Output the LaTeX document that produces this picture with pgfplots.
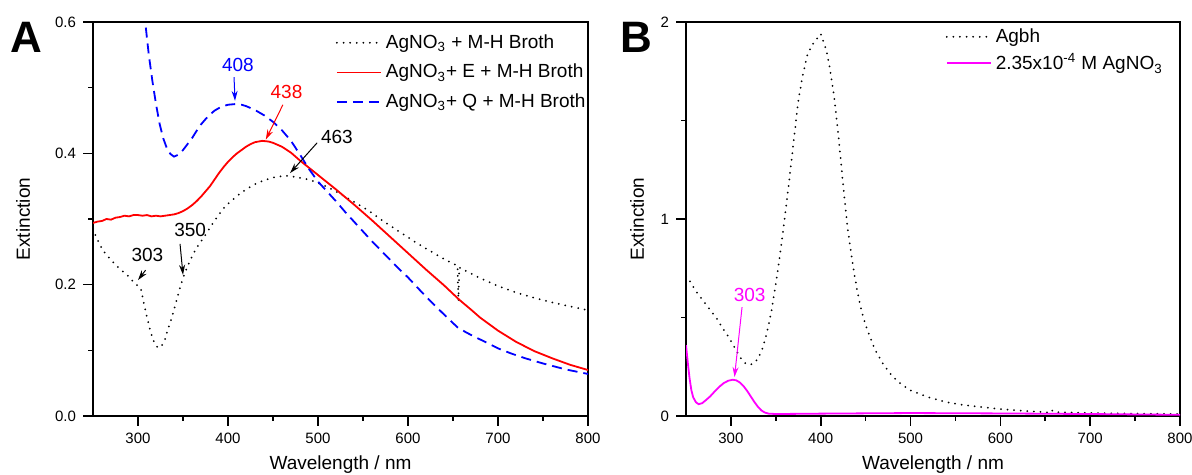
\documentclass[border=0pt]{standalone}
\usepackage{fontspec}
\setmainfont{Liberation Sans}
\usepackage{pgfplots}
\pgfplotsset{compat=1.18}
\usetikzlibrary{arrows.meta}
\definecolor{magentaline}{HTML}{FF00FF}
\definecolor{blueline}{HTML}{0000FF}
\definecolor{redline}{HTML}{FF0000}

\pgfplotstableread{
x y
250 0.285
255 0.268
260 0.255
265 0.245
270 0.238
275 0.230
280 0.224
285 0.218
290 0.212
295 0.204
300 0.198
303 0.195
306 0.175
310 0.150
314 0.128
318 0.112
322 0.104
326 0.106
330 0.117
334 0.135
338 0.152
342 0.172
346 0.192
350 0.210
355 0.228
360 0.243
365 0.256
370 0.266
375 0.276
380 0.287
385 0.297
390 0.307
395 0.316
400 0.323
410 0.335
420 0.345
430 0.353
440 0.359
450 0.363
463 0.366
475 0.364
490 0.360
500 0.355
510 0.349
520 0.342
530 0.334
540 0.326
550 0.318
560 0.309
570 0.299
580 0.290
590 0.281
600 0.272
610 0.263
620 0.255
630 0.247
640 0.239
650 0.232
655 0.229
656 0.175
657 0.226
660 0.224
670 0.217
680 0.210
690 0.204
700 0.198
720 0.188
740 0.180
760 0.173
780 0.167
800 0.161
}\broth

\pgfplotstableread{
x y
250 0.294
255 0.296
260 0.297
265 0.300
270 0.299
275 0.302
280 0.303
285 0.305
290 0.304
295 0.306
300 0.306
305 0.305
310 0.306
315 0.304
320 0.305
325 0.304
330 0.305
335 0.306
340 0.307
345 0.309
350 0.312
355 0.316
360 0.321
365 0.327
370 0.334
375 0.342
380 0.350
385 0.360
390 0.370
395 0.379
400 0.387
405 0.394
410 0.400
415 0.405
420 0.410
425 0.414
430 0.417
438 0.419
445 0.418
450 0.416
460 0.410
470 0.401
480 0.389
490 0.378
500 0.367
520 0.345
540 0.322
560 0.298
580 0.273
600 0.248
620 0.223
640 0.199
657 0.177
670 0.162
680 0.150
700 0.130
720 0.113
740 0.099
760 0.088
780 0.078
800 0.070
}\brothE

\pgfplotstableread{
x y
305 0.640
308 0.600
312 0.550
316 0.510
320 0.475
324 0.445
328 0.423
332 0.408
336 0.399
340 0.395
345 0.398
350 0.405
355 0.414
360 0.423
365 0.434
370 0.444
375 0.452
380 0.459
385 0.465
390 0.469
395 0.472
400 0.474
408 0.475
415 0.474
420 0.472
430 0.466
440 0.458
450 0.448
460 0.435
470 0.419
480 0.398
490 0.376
500 0.357
510 0.342
520 0.327
530 0.311
540 0.296
550 0.281
560 0.266
575 0.245
590 0.224
600 0.211
615 0.189
630 0.168
645 0.148
655 0.135
665 0.127
675 0.120
690 0.110
700 0.103
715 0.095
730 0.088
750 0.080
775 0.071
800 0.064
}\brothQ

\pgfplotstableread{
x y
250 0.71
255 0.68
260 0.64
265 0.61
270 0.58
275 0.55
280 0.52
285 0.49
290 0.45
295 0.42
300 0.38
305 0.34
310 0.30
315 0.27
320 0.26
325 0.265
330 0.29
335 0.34
340 0.42
345 0.53
350 0.67
355 0.83
360 1.01
365 1.20
370 1.40
375 1.60
380 1.73
385 1.83
390 1.88
395 1.91
400 1.94
403 1.90
406 1.86
410 1.77
415 1.62
420 1.41
425 1.17
430 0.95
435 0.79
440 0.65
445 0.54
450 0.46
460 0.34
470 0.26
480 0.20
490 0.16
500 0.13
520 0.095
540 0.07
560 0.055
580 0.045
600 0.035
620 0.028
640 0.022
655 0.018
657 0.03
660 0.02
700 0.015
750 0.012
800 0.01
}\agbh

\pgfplotstableread{
x y
250 0.36
252 0.27
254 0.19
256 0.13
258 0.095
261 0.07
264 0.06
268 0.065
272 0.08
277 0.10
282 0.125
287 0.148
292 0.167
297 0.179
302 0.184
306 0.181
310 0.170
314 0.152
318 0.128
322 0.100
326 0.072
330 0.047
334 0.028
338 0.017
342 0.012
350 0.010
400 0.012
500 0.015
600 0.013
700 0.010
800 0.006
}\agno

\pgfplotsset{
  panel/.style={
    scale only axis, width=247.5pt, height=197pt,
    clip mode=individual,
    xmin=250, xmax=800, xtick={300,400,...,800}, minor x tick num=1,
    xtick pos=lower, ytick pos=left, tick align=outside,
    major tick length=5pt, minor tick length=2.5pt,
    axis line style={line width=0.8pt}, every tick/.style={line width=0.8pt, black},
    tick label style={font=\fontsize{7.5}{8}\selectfont},
    /pgf/number format/assume math mode=true,
    label style={font=\fontsize{9.5}{10}\selectfont},
    xlabel={Wavelength / nm},
    xlabel style={at={(axis description cs:0.5,-0.124)}, anchor=center},
    ylabel={Extinction},
    legend style={draw=none, fill=none, anchor=north west,
      font=\fontsize{9.5}{10}\selectfont, row sep=2.5pt, inner xsep=0pt, inner ysep=5pt},
    legend cell align=left,
    legend image code/.code={\draw[##1] (0pt,0pt) -- (22pt,0pt);},
  },
  dots/.style={black, line width=1pt, line cap=round, dash pattern=on 0pt off 3.3pt},
}

\begin{document}
\begin{tikzpicture}
\useasboundingbox (0,0) rectangle (596pt,237.5pt);

\begin{axis}[panel, at={(46.5pt,29.5pt)}, anchor=south west,
  ymin=0, ymax=0.6, ytick={0,0.2,0.4,0.6}, minor y tick num=1,
  yticklabel style={/pgf/number format/.cd, fixed, fixed zerofill, precision=1},
  ylabel style={at={(axis description cs:-0.141,0.5)}, anchor=center},
  legend style={at={(axis description cs:0.49,1)}, inner ysep=4pt},
]
\addplot[dots] table {\broth};
\addlegendentry{AgNO\textsubscript{3} + M-H Broth}
\addplot[color=redline, line width=0.9pt, solid] table {\brothE};
\addlegendentry{AgNO\textsubscript{3}+ E + M-H Broth}
\addplot[color=blueline, line width=0.9pt, dash pattern=on 5pt off 3pt] table {\brothQ};
\addlegendentry{AgNO\textsubscript{3}+ Q + M-H Broth}

\node[font=\fontsize{22}{22}\selectfont\bfseries] at (axis description cs:-0.135,0.961) {A};

\node[blueline, font=\fontsize{9.5}{10}\selectfont] at (axis cs:411,0.534) {408};
\draw[blueline, line width=0.5pt, -{Stealth[length=5pt,width=3pt]}] (axis cs:406.7,0.516) -- (axis cs:407.8,0.480);
\node[redline, font=\fontsize{9.5}{10}\selectfont] at (axis cs:465,0.493) {438};
\draw[redline, line width=0.5pt, -{Stealth[length=5pt,width=3pt]}] (axis cs:461,0.474) -- (axis cs:442,0.421);
\node[font=\fontsize{9.5}{10}\selectfont] at (axis cs:521,0.425) {463};
\draw[line width=0.5pt, -{Stealth[length=5pt,width=3pt]}] (axis cs:499,0.416) -- (axis cs:469,0.370);
\node[font=\fontsize{9.5}{10}\selectfont] at (axis cs:310.5,0.245) {303};
\draw[line width=0.5pt, -{Stealth[length=5pt,width=3pt]}] (axis cs:308.4,0.222) -- (axis cs:300,0.207);
\node[font=\fontsize{9.5}{10}\selectfont] at (axis cs:358,0.283) {350};
\draw[line width=0.5pt, -{Stealth[length=5pt,width=3pt]}] (axis cs:346.7,0.262) -- (axis cs:350,0.215);
\end{axis}

\begin{axis}[panel, at={(343pt,29.5pt)}, anchor=south west, width=247pt,
  ymin=0, ymax=2, ytick={0,1,2}, minor y tick num=1,
  ylabel style={at={(axis description cs:-0.099,0.5)}, anchor=center},
  legend style={at={(axis description cs:0.525,1)}, inner ysep=1pt, row sep=0pt},
]
\addplot[dots] table {\agbh};
\addlegendentry{Agbh}
\addplot[color=magentaline, line width=0.9pt, solid] table {\agno};
\addlegendentry{2.35x10\textsuperscript{-4} M AgNO\textsubscript{3}}

\node[font=\fontsize{22}{22}\selectfont\bfseries] at (axis description cs:-0.101,0.961) {B};

\node[magentaline, font=\fontsize{9.5}{10}\selectfont] at (axis cs:320.8,0.614) {303};
\draw[magentaline, line width=0.5pt, -{Stealth[length=5pt,width=3pt]}] (axis cs:312.4,0.553) -- (axis cs:304,0.198);
\end{axis}
\end{tikzpicture}
\end{document}
